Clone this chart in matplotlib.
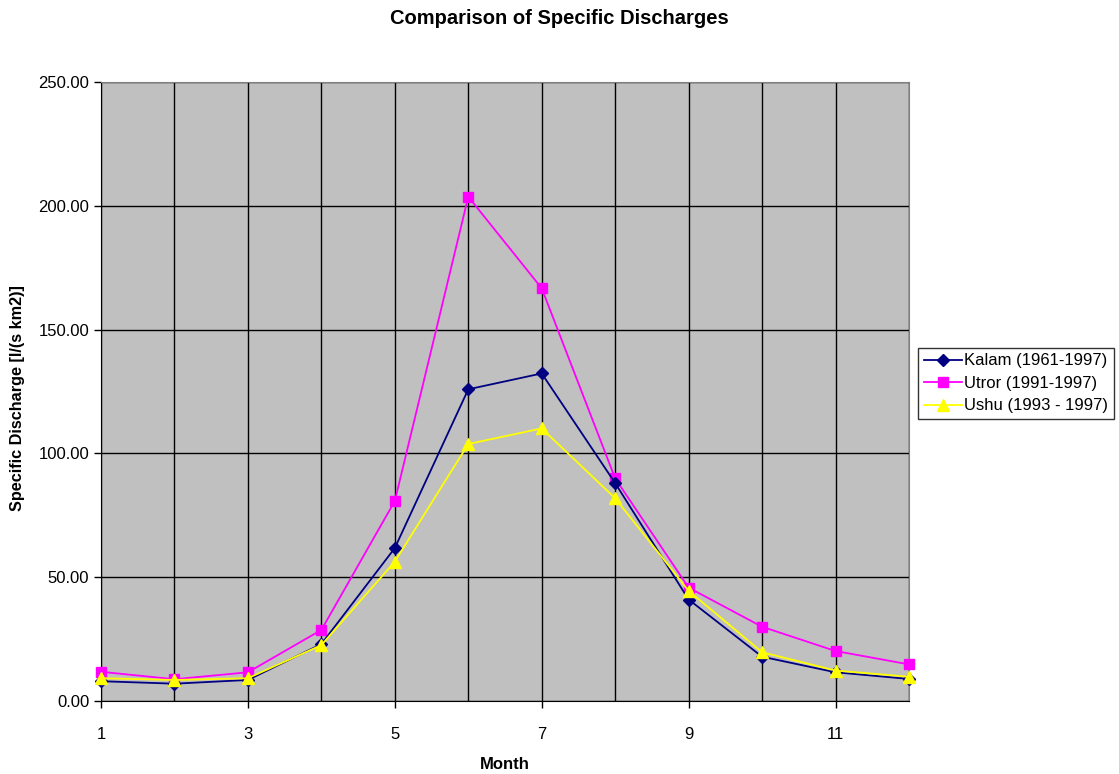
import matplotlib
matplotlib.use('Agg')
from matplotlib import pyplot as plt
from matplotlib.ticker import MultipleLocator, FixedLocator, FormatStrFormatter

plt.rcParams['font.family'] = ['Liberation Sans', 'DejaVu Sans']

months = [1, 2, 3, 4, 5, 6, 7, 8, 9, 10, 11, 12]
kalam = [8.0, 7.0, 8.5, 23.0, 61.8, 125.9, 132.3, 88.0, 41.0, 17.9, 11.6, 8.9]
utror = [11.8, 8.8, 11.6, 28.7, 80.8, 203.7, 166.7, 89.9, 45.8, 30.0, 20.2, 14.8]
ushu = [9.2, 8.5, 9.2, 22.6, 56.3, 103.8, 110.1, 81.9, 44.5, 19.7, 12.3, 9.8]
month_ticks = [1, 3, 5, 7, 9, 11]

fig = plt.figure(figsize=(11.19, 7.74), dpi=100)
ax = fig.add_axes([0.0903, 0.0943, 0.722, 0.7997])
ax.set_facecolor('#C0C0C0')

ax.plot(months, kalam, color='#000080', marker='D', markersize=6, linewidth=1.3,
        label='Kalam (1961-1997)', clip_on=False, zorder=5)
ax.plot(months, utror, color='#FF00FF', marker='s', markersize=7, linewidth=1.3,
        label='Utror (1991-1997)', clip_on=False, zorder=4)
ax.plot(months, ushu, color='#FFFF00', marker='^', markersize=8, linewidth=1.3,
        label='Ushu (1993 - 1997)', clip_on=False, zorder=6)

ax.set_xlim(1, 12)
ax.set_ylim(0, 250)
ax.xaxis.set_major_locator(FixedLocator(month_ticks))
ax.xaxis.set_minor_locator(FixedLocator([m for m in months if m not in month_ticks]))
ax.yaxis.set_major_locator(MultipleLocator(50))
ax.yaxis.set_major_formatter(FormatStrFormatter('%.2f'))
ax.grid(which='both', color='black', linewidth=1.0, zorder=1)
ax.set_axisbelow(True)
ax.tick_params(axis='both', which='major', direction='out', length=5, width=1,
               labelsize=12, color='black')
ax.tick_params(axis='x', which='minor', length=0)
ax.tick_params(axis='x', pad=14)

for side in ['top', 'right']:
    ax.spines[side].set_color('#808080')
for side in ['left', 'bottom']:
    ax.spines[side].set_color('black')

fig.text(0.5, 0.976, 'Comparison of Specific Discharges', ha='center', va='center',
         fontsize=14.5, fontweight='bold')
ax.set_xlabel('Month', fontsize=12, fontweight='bold')
ax.xaxis.set_label_coords(0.5, -0.102)
ax.set_ylabel('Specific Discharge [l/(s km2)]', fontsize=11.7, fontweight='bold')
ax.yaxis.set_label_coords(-0.103, 0.489)
ax.xaxis.label.set_va('center')
ax.yaxis.label.set_va('center')

leg = fig.legend(loc='upper left', bbox_to_anchor=(0.8205, 0.551), fontsize=12,
                 frameon=True, fancybox=False, borderpad=0.35, handlelength=2.3,
                 handletextpad=0.1, labelspacing=0.45, borderaxespad=0)
leg.get_frame().set_edgecolor('black')
leg.get_frame().set_linewidth(1.0)

fig.savefig('out.png', dpi=100)
